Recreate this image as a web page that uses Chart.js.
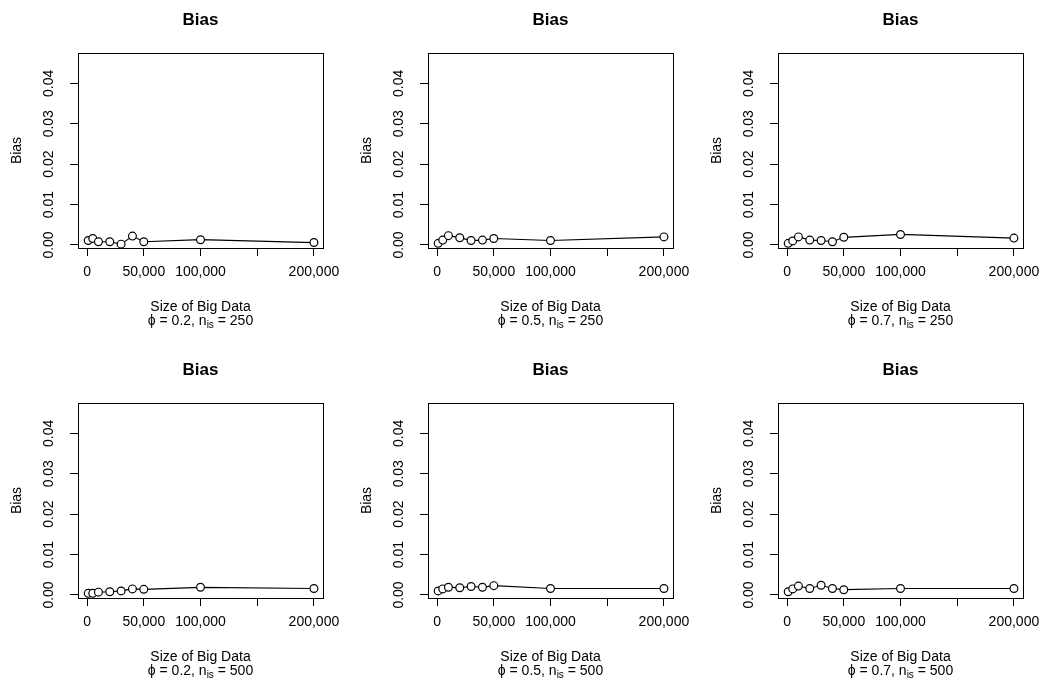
<!DOCTYPE html>
<html>
<head>
<meta charset="utf-8">
<script src="https://cdn.jsdelivr.net/npm/chart.js@4.4.0/dist/chart.umd.min.js"></script>
<style>
  html, body { margin: 0; padding: 0; background: #fff; }
  body { width: 1054px; height: 682px; position: relative; overflow: hidden; }
  .panel { position: absolute; width: 351px; height: 350px; }
</style>
</head>
<body>
<div class="panel" style="left:0px;top:0px"><canvas id="c0"></canvas></div>
<div class="panel" style="left:350px;top:0px"><canvas id="c1"></canvas></div>
<div class="panel" style="left:700px;top:0px"><canvas id="c2"></canvas></div>
<div class="panel" style="left:0px;top:350px"><canvas id="c3"></canvas></div>
<div class="panel" style="left:350px;top:350px"><canvas id="c4"></canvas></div>
<div class="panel" style="left:700px;top:350px"><canvas id="c5"></canvas></div>
<script>
// Size of big data (x values)
var sizes = [1000, 5000, 10000, 20000, 30000, 40000, 50000, 100000, 200000];
var xTicks = [0, 50000, 100000, 150000, 200000];
var yTicks = [0, 0.01, 0.02, 0.03, 0.04];
var phiValues = ['0.2', '0.5', '0.7'];
var nisValues = ['250', '500'];

// bias values
var bias_phi02_n250 = [0.0011, 0.0016, 0.0008, 0.0008, 0.0002, 0.0022, 0.0008, 0.0013, 0.0006];
var bias_phi05_n250 = [0.0004, 0.0012, 0.0023, 0.0018, 0.0011, 0.0012, 0.0016, 0.0011, 0.0020];
var bias_phi07_n250 = [0.0004, 0.0010, 0.0020, 0.0012, 0.0011, 0.0008, 0.0019, 0.0026, 0.0017];
var bias_phi02_n500 = [0.0004, 0.0004, 0.0007, 0.0008, 0.0010, 0.0015, 0.0014, 0.0019, 0.0016];
var bias_phi05_n500 = [0.0010, 0.0015, 0.0019, 0.0018, 0.0021, 0.0019, 0.0023, 0.0016, 0.0016];
var bias_phi07_n500 = [0.0008, 0.0015, 0.0022, 0.0016, 0.0024, 0.0016, 0.0013, 0.0016, 0.0016];

var panels = [
    {bias: bias_phi02_n250, phi: phiValues[0], nis: nisValues[0]},
    {bias: bias_phi05_n250, phi: phiValues[1], nis: nisValues[0]},
    {bias: bias_phi07_n250, phi: phiValues[2], nis: nisValues[0]},
    {bias: bias_phi02_n500, phi: phiValues[0], nis: nisValues[1]},
    {bias: bias_phi05_n500, phi: phiValues[1], nis: nisValues[1]},
    {bias: bias_phi07_n500, phi: phiValues[2], nis: nisValues[1]}
];

var FONT = '"Liberation Sans", Arial, Helvetica, sans-serif';

// draws the box round the plot region and the R style titles
var rTextPlugin = {
    id: 'rText',
    afterDraw: function(chart) {
        var ctx = chart.ctx;
        var a = chart.chartArea;
        var cx = (a.left + a.right) / 2;
        var info = chart.options.plugins.rText;

        ctx.save();
        ctx.strokeStyle = '#000';
        ctx.lineWidth = 1;
        ctx.strokeRect(Math.round(a.left) + 0.5, Math.round(a.top) + 0.5,
            Math.round(a.right - a.left), Math.round(a.bottom - a.top));

        ctx.fillStyle = '#000';
        ctx.textAlign = 'center';
        ctx.textBaseline = 'middle';
        ctx.font = 'bold 17px ' + FONT;
        ctx.fillText('Bias', cx, 20);

        ctx.font = '14px ' + FONT;
        ctx.fillText('Size of Big Data', cx, a.bottom + 59);

        // subtitle with subscript: phi = 0.2, n_is = 250
        var y = a.bottom + 73;
        var p1 = '\u03D5 = ' + info.phi + ', n';
        var sub = 'is';
        var p2 = ' = ' + info.nis;
        ctx.font = '14px ' + FONT;
        var w1 = ctx.measureText(p1).width;
        var w3 = ctx.measureText(p2).width;
        ctx.font = '10px ' + FONT;
        var w2 = ctx.measureText(sub).width;
        var x = cx - (w1 + w2 + w3) / 2;
        ctx.textAlign = 'left';
        ctx.font = '14px ' + FONT;
        ctx.fillText(p1, x, y);
        ctx.font = '10px ' + FONT;
        ctx.fillText(sub, x + w1, y + 4);
        ctx.font = '14px ' + FONT;
        ctx.fillText(p2, x + w1 + w2, y);
        ctx.restore();
    }
};

function makeChart(id, panel) {
    var ctx = document.getElementById(id).getContext('2d');
    var points = sizes.map(function(s, i) { return {x: s, y: panel.bias[i]}; });

    return new Chart(ctx, {
        type: 'line',
        data: {
            datasets: [{
                data: points,
                borderColor: '#000',
                borderWidth: 1.2,
                tension: 0,
                pointRadius: 3.9,
                pointBorderWidth: 1.2,
                pointBorderColor: '#000',
                pointBackgroundColor: '#fff',
                clip: false
            }]
        },
        options: {
            responsive: false,
            animation: false,
            events: [],
            layout: {padding: {left: 4, top: 53, right: 28, bottom: 72}},
            plugins: {
                legend: {display: false},
                tooltip: {enabled: false},
                rText: {phi: panel.phi, nis: panel.nis}
            },
            scales: {
                x: {
                    type: 'linear',
                    min: -8000,
                    max: 208000,
                    afterBuildTicks: function(scale) {
                        scale.ticks = xTicks.map(function(v) { return {value: v}; });
                    },
                    afterFit: function(scale) { scale.height = 30; },
                    ticks: {
                        autoSkip: false,
                        maxRotation: 0,
                        minRotation: 0,
                        padding: 8,
                        color: '#000',
                        font: {family: FONT, size: 14},
                        callback: function(v) {
                            if (v === 150000) return '';
                            return v.toLocaleString('en-US');
                        }
                    },
                    grid: {
                        drawOnChartArea: false,
                        drawTicks: true,
                        tickLength: 8,
                        color: '#000',
                        lineWidth: 1
                    },
                    border: {display: false}
                },
                y: {
                    min: -0.00075,
                    max: 0.0475,
                    afterBuildTicks: function(scale) {
                        scale.ticks = yTicks.map(function(v) { return {value: v}; });
                    },
                    afterFit: function(scale) { scale.width = 74; },
                    ticks: {
                        minRotation: 90,
                        maxRotation: 90,
                        crossAlign: 'center',
                        padding: 7,
                        color: '#000',
                        font: {family: FONT, size: 14},
                        callback: function(v) { return v.toFixed(2); }
                    },
                    grid: {
                        drawOnChartArea: false,
                        drawTicks: true,
                        tickLength: 8,
                        color: '#000',
                        lineWidth: 1
                    },
                    border: {display: false},
                    title: {
                        display: true,
                        text: 'Bias',
                        color: '#000',
                        font: {family: FONT, size: 14},
                        padding: {top: 5, bottom: 0}
                    }
                }
            }
        },
        plugins: [rTextPlugin]
    });
}

for (var i = 0; i < panels.length; i++) {
    var cv = document.getElementById('c' + i);
    cv.width = 351;
    cv.height = 350;
    makeChart('c' + i, panels[i]);
}
</script>
</body>
</html>
